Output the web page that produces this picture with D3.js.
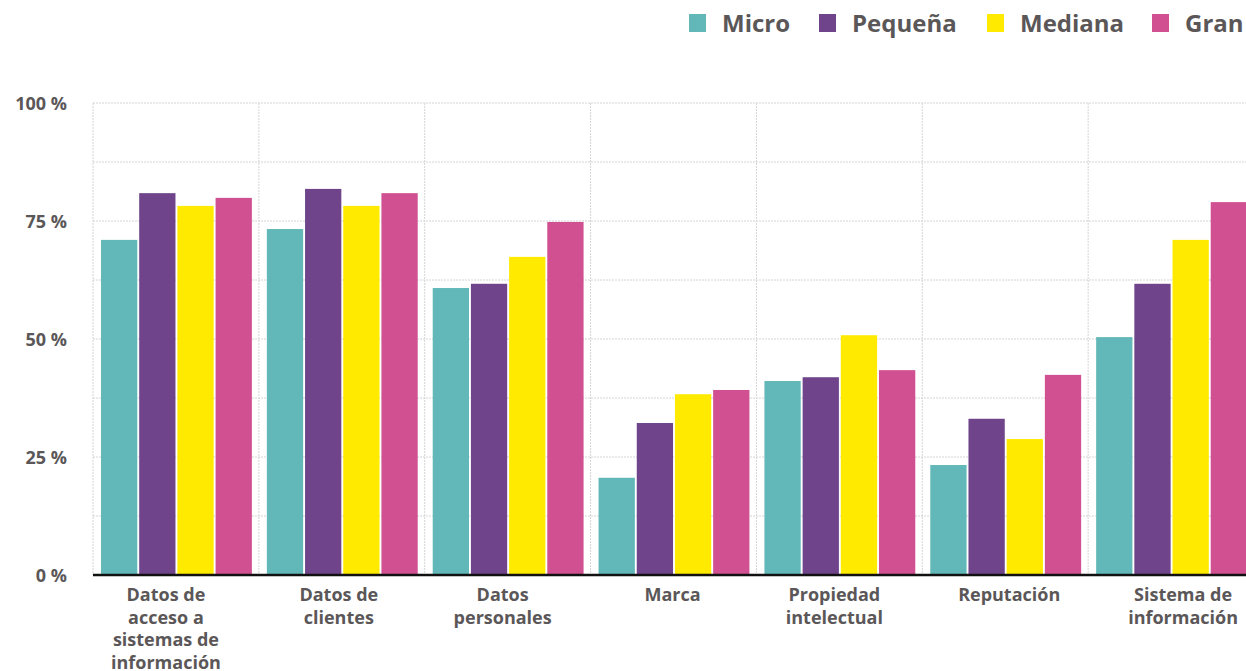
<!DOCTYPE html>
<html>
<head>
<meta charset="utf-8">
<script src="https://cdn.jsdelivr.net/npm/d3@7"></script>
<style>
  html, body { margin: 0; padding: 0; background: #fff; }
  svg { display: block; font-family: "Open Sans", Lato, sans-serif; }
</style>
</head>
<body>
<svg id="chart" width="1246" height="671"></svg>
<script>
// Categories (each label split into lines)
const categories = [
  ["Datos de", "acceso a", "sistemas de", "información"],
  ["Datos de", "clientes"],
  ["Datos", "personales"],
  ["Marca"],
  ["Propiedad", "intelectual"],
  ["Reputación"],
  ["Sistema de", "información"]
];
const seriesNames = ["Micro", "Pequeña", "Mediana", "Gran"];
const seriesColors = ["#62b8b9", "#6f448b", "#ffea00", "#d05091"];

// Share of companies per category (%)
const micro   = [71.0, 73.3, 60.8, 20.6, 41.1, 23.3, 50.4];
const pequena = [80.9, 81.8, 61.7, 32.2, 41.9, 33.1, 61.7];
const mediana = [78.2, 78.2, 67.4, 38.3, 50.8, 28.8, 71.0];
const gran    = [79.9, 80.9, 74.8, 39.2, 43.4, 42.4, 79.0];
const series = [micro, pequena, mediana, gran];

const yTicks = [0, 25, 50, 75, 100];
const yGrid = [0, 12.5, 25, 37.5, 50, 62.5, 75, 87.5, 100];

// Layout
const svg = d3.select("#chart");
const margin = { left: 93, top: 103, bottom: 96 };
const plotW = 1161;  // extends slightly past the window's right edge
const plotH = 671 - margin.top - margin.bottom;
const labelDx = [-10, -3, -5, -1, -5, 4, 12];   // nudges for category labels
const legendX = [689, 819, 987, 1152];

const x0 = d3.scaleBand().domain(d3.range(categories.length))
  .range([margin.left, margin.left + plotW]).paddingInner(0).paddingOuter(0);
const x1 = d3.scaleBand().domain(d3.range(seriesNames.length))
  .range([8, x0.bandwidth() - 7]).paddingInner(0.05);
const y = d3.scaleLinear().domain([0, 100]).range([margin.top + plotH, margin.top]);

const textColor = "#5b5758";

// Horizontal dotted gridlines
svg.append("g").selectAll("line").data(yGrid).join("line")
  .attr("x1", margin.left).attr("x2", margin.left + plotW)
  .attr("y1", d => y(d)).attr("y2", d => y(d))
  .attr("stroke", "#d4d4d4").attr("stroke-width", 1)
  .attr("stroke-dasharray", "2,1");

// Vertical dotted gridlines at category boundaries
svg.append("g").selectAll("line").data(d3.range(categories.length + 1)).join("line")
  .attr("x1", d => margin.left + d * x0.step()).attr("x2", d => margin.left + d * x0.step())
  .attr("y1", y(100)).attr("y2", y(0))
  .attr("stroke", "#d4d4d4").attr("stroke-width", 1)
  .attr("stroke-dasharray", "2,1");

// Bars
const groups = svg.append("g").selectAll("g").data(categories).join("g")
  .attr("transform", (d, i) => `translate(${x0(i)},0)`);
groups.selectAll("rect")
  .data((d, i) => series.map((s, k) => ({ k, v: s[i] })))
  .join("rect")
  .attr("x", d => x1(d.k))
  .attr("width", x1.bandwidth())
  .attr("y", d => y(d.v))
  .attr("height", d => y(0) - y(d.v))
  .attr("fill", d => seriesColors[d.k]);

// Y axis labels
const yAxis = d3.axisLeft(y).tickValues(yTicks).tickSize(0).tickPadding(0)
  .tickFormat(d => d + " %");
const yg = svg.append("g").attr("transform", `translate(67,0)`).call(yAxis);
yg.select(".domain").remove();
yg.selectAll("text")
  .attr("fill", textColor).attr("font-size", 18).attr("font-weight", 700)
  .attr("font-family", "'Open Sans', sans-serif")
  .attr("dy", "0.35em");

// X axis baseline
svg.append("line")
  .attr("x1", margin.left).attr("x2", 1246)
  .attr("y1", y(0)).attr("y2", y(0))
  .attr("stroke", "#111").attr("stroke-width", 2.5);

// Category labels
const xl = svg.append("g").selectAll("text").data(categories).join("text")
  .attr("text-anchor", "middle")
  .attr("fill", textColor).attr("font-size", 18).attr("font-weight", 700)
  .attr("transform", (d, i) =>
    `translate(${x0(i) + x0.bandwidth() / 2 + labelDx[i]},${y(0) + 26})`);
xl.selectAll("tspan").data(d => d).join("tspan")
  .attr("x", 0).attr("y", (d, j) => j * 22.5)
  .text(d => d);

// Legend
const legend = svg.append("g").selectAll("g").data(seriesNames).join("g")
  .attr("transform", (d, i) => `translate(${legendX[i]},14)`);
legend.append("rect").attr("width", 17).attr("height", 18)
  .attr("fill", (d, i) => seriesColors[i]);
legend.append("text").attr("x", 33).attr("y", 9).attr("dy", "0.36em")
  .attr("fill", textColor).attr("font-size", 24).attr("font-weight", 700)
  .text(d => d);
</script>
</body>
</html>
